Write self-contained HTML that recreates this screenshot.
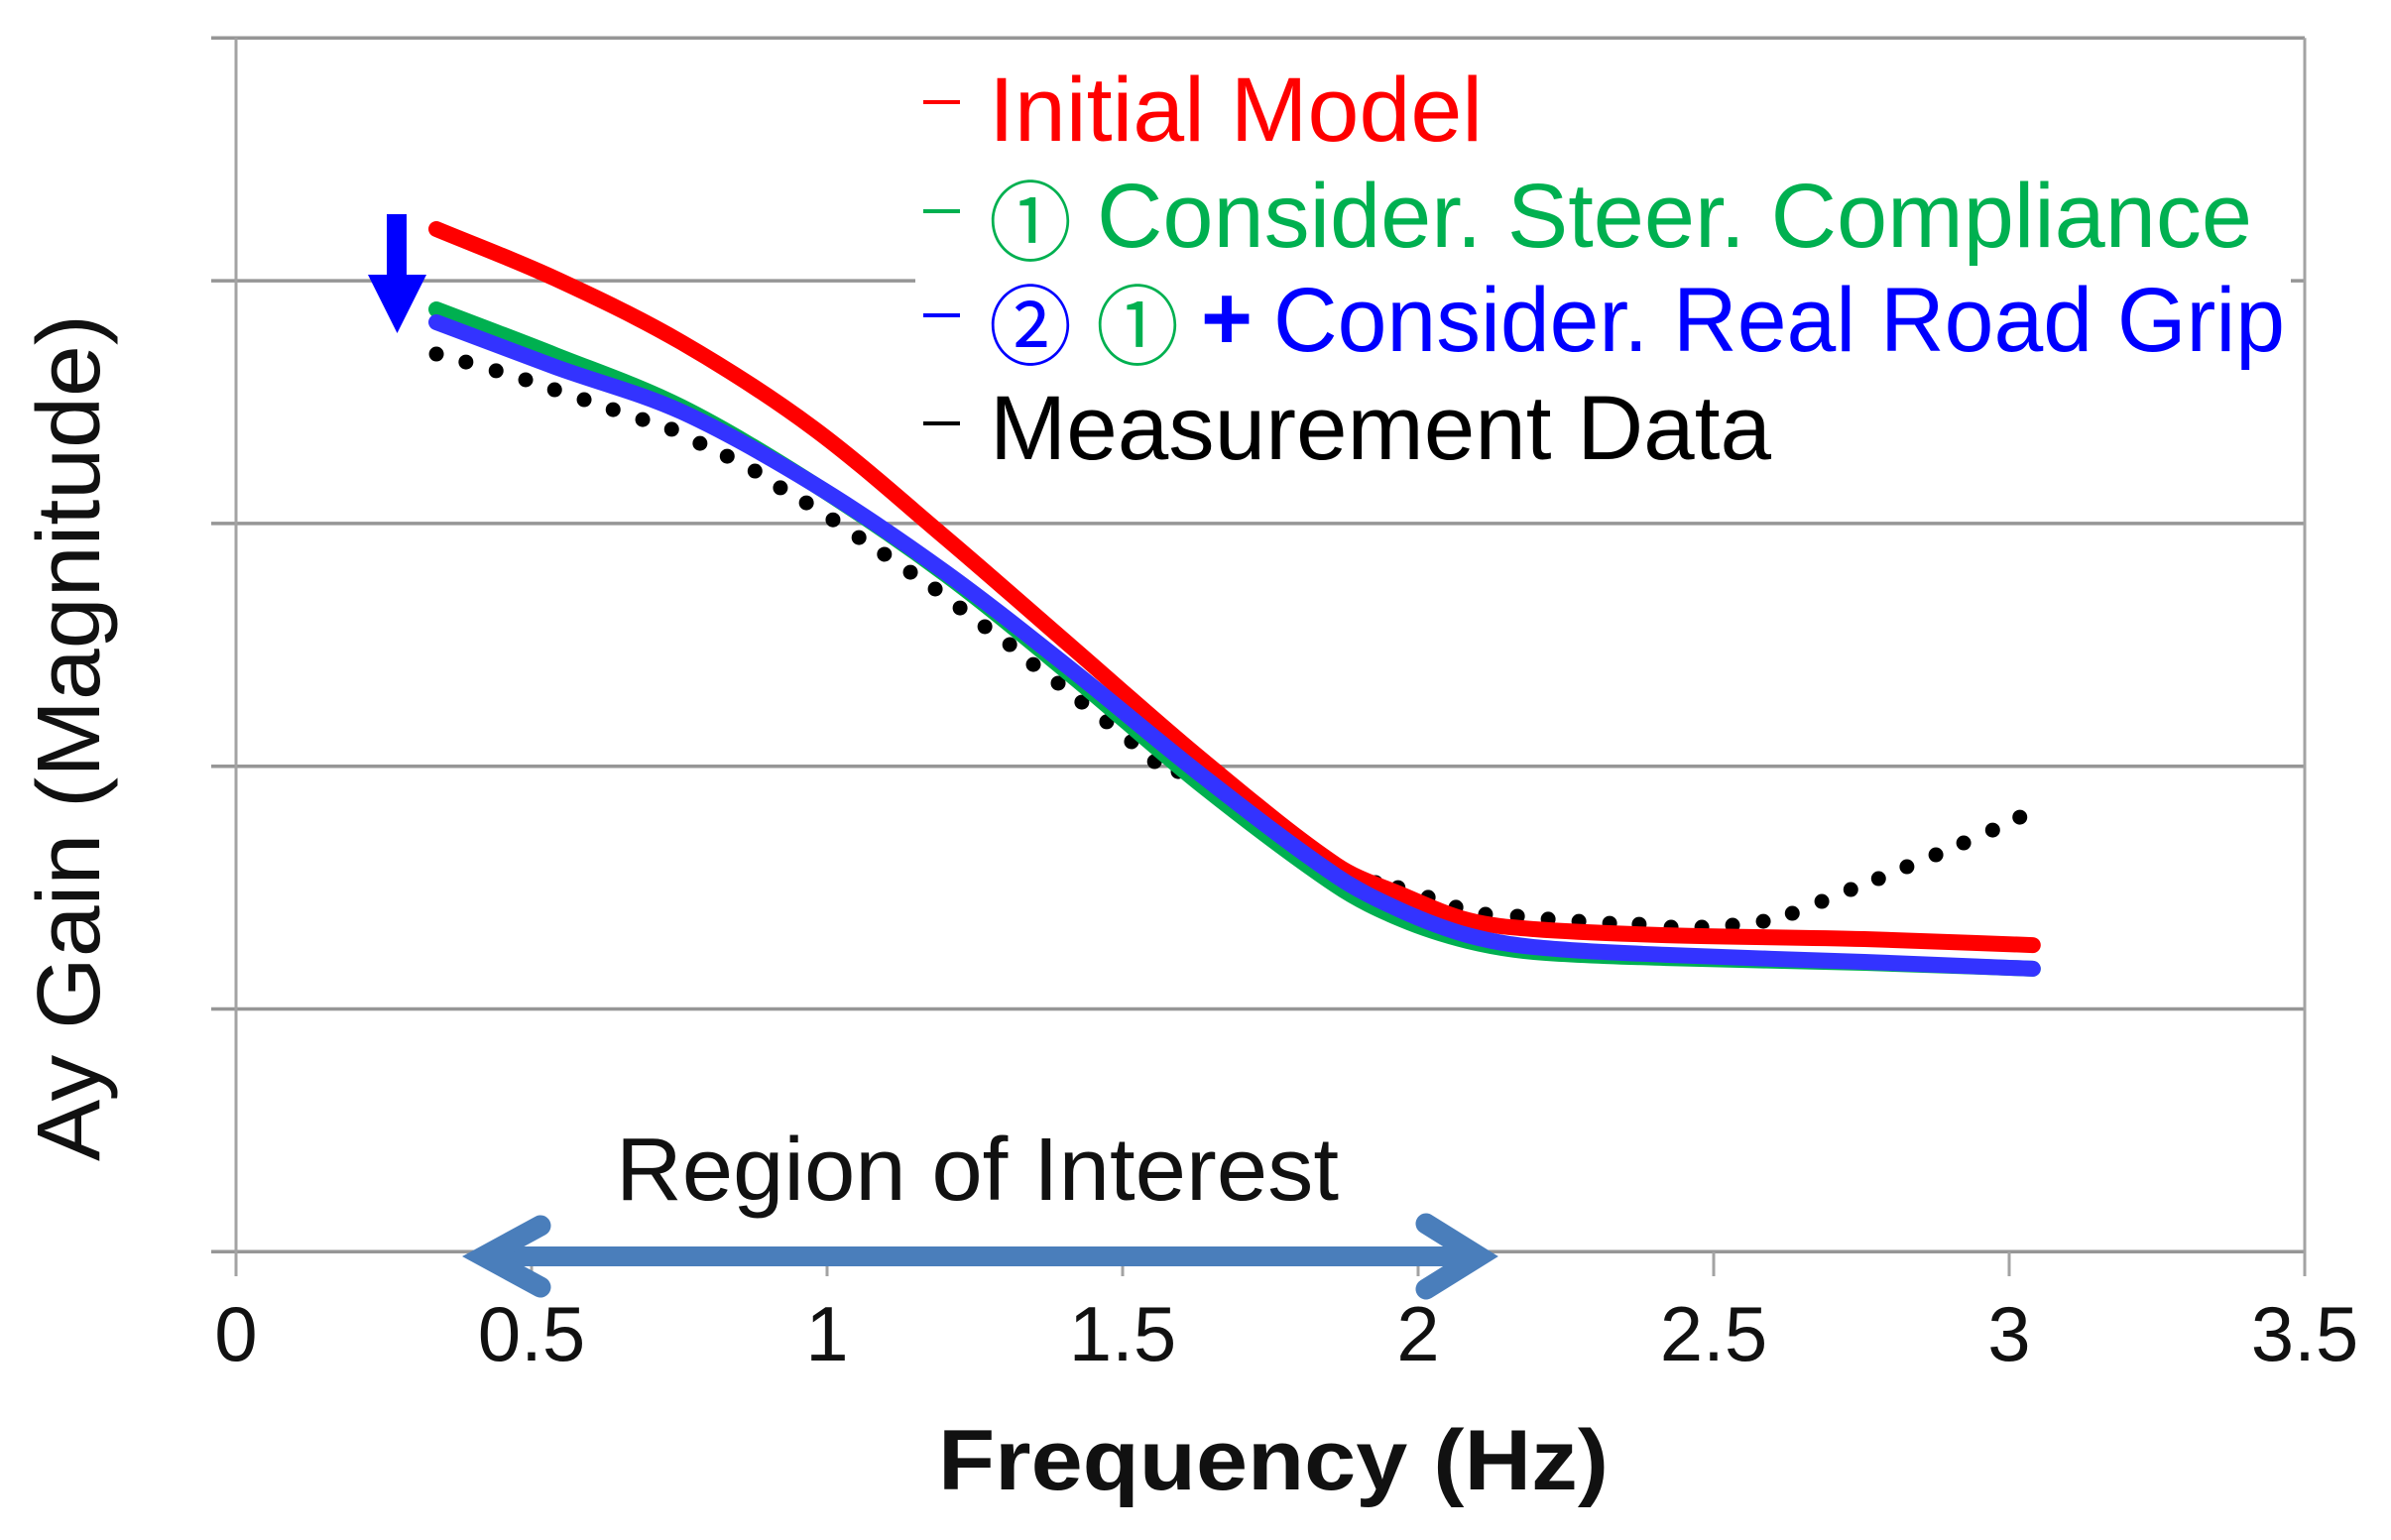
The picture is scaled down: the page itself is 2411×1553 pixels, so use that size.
<!DOCTYPE html>
<html lang="en">
<head>
<meta charset="utf-8">
<title>Ay Gain vs Frequency</title>
<style>
html,body{margin:0;padding:0;background:#fff;}
svg{display:block;}
text{font-family:"Liberation Sans","Noto Sans CJK KR",sans-serif;}
</style>
</head>
<body>
<svg id="chart" xmlns="http://www.w3.org/2000/svg" width="2411" height="1553" viewBox="0 0 2411 1553">
  <rect x="0" y="0" width="2411" height="1553" fill="#ffffff"/>
  <g id="grid"></g>
  <g id="xaxis"></g>
  <rect x="923" y="60" width="1387" height="440" fill="#ffffff"/>
  <g id="dots"></g>
  <g id="lines"></g>

  <path fill="#0000ff" d="M390 216H410V277H430L400.500 336L371 277H390Z"/>

  <g>
    <g>
      <rect x="931" y="101" width="37" height="4" fill="#ff0000"/>
      <text x="997" y="142" font-size="92" fill="#ff0000" textLength="498" lengthAdjust="spacingAndGlyphs">Initial Model</text>
    </g>
    <g>
      <rect x="931" y="211" width="37" height="4" fill="#00b050"/>
      <text x="997" y="256" font-size="88" fill="#00b050" textLength="84" lengthAdjust="spacingAndGlyphs">①</text>
      <text x="1106" y="249" font-size="92" fill="#00b050" textLength="1165" lengthAdjust="spacingAndGlyphs">Consider. Steer. Compliance</text>
    </g>
    <g>
      <rect x="931" y="316" width="37" height="4" fill="#0000ff"/>
      <text x="997" y="361" font-size="88" fill="#0000ff" textLength="84" lengthAdjust="spacingAndGlyphs">②</text>
      <text x="1105" y="361" font-size="88" fill="#00b050" textLength="84" lengthAdjust="spacingAndGlyphs">①</text>
      <text x="1211" y="352" font-size="92" font-weight="bold" fill="#0000ff" textLength="52" lengthAdjust="spacingAndGlyphs">+</text>
      <text x="1284" y="354" font-size="92" fill="#0000ff" textLength="1020" lengthAdjust="spacingAndGlyphs">Consider. Real Road Grip</text>
    </g>
    <g>
      <rect x="931" y="425" width="37" height="4" fill="#000000"/>
      <text x="998" y="463" font-size="92" fill="#000000" textLength="788" lengthAdjust="spacingAndGlyphs">Measurement Data</text>
    </g>
  </g>

  <text x="621" y="1210" font-size="90" fill="#111111" textLength="729" lengthAdjust="spacingAndGlyphs">Region of Interest</text>
  <g fill="none" stroke="#4a7ebb">
    <line x1="488" y1="1267" x2="1489" y2="1267" stroke-width="20"/>
    <polyline points="545,1236 488,1267 545,1298" stroke-width="21" stroke-linecap="round" stroke-linejoin="miter"/>
    <polyline points="1438,1234 1491,1267 1438,1300" stroke-width="21" stroke-linecap="round" stroke-linejoin="miter"/>
  </g>

  <text transform="translate(100 1171) rotate(-90)" font-size="90" fill="#111111" textLength="854" lengthAdjust="spacingAndGlyphs">Ay Gain (Magnitude)</text>
  <text x="946" y="1502" font-size="86" font-weight="bold" fill="#111111" textLength="676" lengthAdjust="spacingAndGlyphs">Frequency (Hz)</text>
</svg>

<script>
var xTickValues = [0, 0.5, 1, 1.5, 2, 2.5, 3, 3.5];
var xTickLabels = ['0', '0.5', '1', '1.5', '2', '2.5', '3', '3.5'];
var yTickValues = [0, 1, 2, 3, 4, 5];

var modelFreq = [0.339, 0.54, 0.753, 0.977, 1.2, 1.413, 1.636, 1.861, 1.971, 2.084, 2.196, 2.419, 2.755, 3.04];
var initialModel = [4.213, 4.009, 3.747, 3.392, 2.942, 2.493, 2.023, 1.594, 1.472, 1.366, 1.329, 1.304, 1.288, 1.263];
var steerCompliance = [3.882, 3.694, 3.481, 3.163, 2.791, 2.375, 1.917, 1.509, 1.370, 1.280, 1.235, 1.210, 1.190, 1.166];
var realRoadGrip = [3.829, 3.645, 3.461, 3.163, 2.799, 2.399, 1.958, 1.549, 1.406, 1.304, 1.255, 1.223, 1.194, 1.166];

var measuredFreq = [0.339, 0.389, 0.44, 0.49, 0.539, 0.589, 0.638, 0.688, 0.737, 0.785, 0.831, 0.878, 0.921, 0.965, 1.01, 1.054, 1.097, 1.141, 1.183, 1.225, 1.267, 1.309, 1.349, 1.391, 1.431, 1.473, 1.515, 1.554, 1.594, 1.636, 1.678, 1.72, 1.762, 1.804, 1.846, 1.888, 1.928, 1.966, 2.017, 2.064, 2.114, 2.168, 2.22, 2.272, 2.324, 2.374, 2.428, 2.48, 2.532, 2.584, 2.633, 2.683, 2.732, 2.779, 2.827, 2.876, 2.923, 2.972, 3.018];
var measuredGain = [3.698, 3.665, 3.629, 3.592, 3.551, 3.510, 3.469, 3.428, 3.388, 3.330, 3.277, 3.216, 3.147, 3.085, 3.015, 2.942, 2.873, 2.799, 2.730, 2.652, 2.575, 2.501, 2.419, 2.342, 2.264, 2.183, 2.101, 2.019, 1.978, 1.921, 1.848, 1.774, 1.705, 1.652, 1.582, 1.553, 1.521, 1.500, 1.460, 1.419, 1.390, 1.382, 1.370, 1.361, 1.353, 1.349, 1.337, 1.337, 1.345, 1.361, 1.394, 1.443, 1.492, 1.537, 1.586, 1.635, 1.684, 1.737, 1.790];

var NS = 'http://www.w3.org/2000/svg';
var plotLeft = 238, pxPerHz = 596, plotBottom = 1262.3, pxPerUnit = 244.8;
function xScale(v) { return plotLeft + v * pxPerHz; }
function yScale(v) { return plotBottom - v * pxPerUnit; }
function make(tag, attrs, parent) {
  var el = document.createElementNS(NS, tag);
  for (var k in attrs) { el.setAttribute(k, attrs[k]); }
  parent.appendChild(el);
  return el;
}
function smoothPath(xs, ys) {
  var pts = xs.map(function (x, i) { return [xScale(x), yScale(ys[i])]; });
  var n = pts.length;
  var slopes = pts.map(function (p, i) {
    var a = pts[Math.max(i - 1, 0)], b = pts[Math.min(i + 1, n - 1)];
    return (b[1] - a[1]) / (b[0] - a[0]);
  });
  var d = 'M' + pts[0][0].toFixed(1) + ' ' + pts[0][1].toFixed(1);
  for (var i = 0; i < n - 1; i++) {
    var h = pts[i + 1][0] - pts[i][0];
    var c1x = pts[i][0] + h / 3, c1y = pts[i][1] + slopes[i] * h / 3;
    var c2x = pts[i + 1][0] - h / 3, c2y = pts[i + 1][1] - slopes[i + 1] * h / 3;
    d += 'C' + c1x.toFixed(1) + ' ' + c1y.toFixed(1) + ' ' + c2x.toFixed(1) + ' ' + c2y.toFixed(1) + ' ' + pts[i + 1][0].toFixed(1) + ' ' + pts[i + 1][1].toFixed(1);
  }
  return d;
}

var gridG = document.getElementById('grid');
yTickValues.forEach(function (v, i) {
  var el = make('line', { x1: 213, x2: xScale(3.5), y1: yScale(v), y2: yScale(v), stroke: '#969696', 'stroke-width': 3.5 }, gridG);
  
  
});

var xG = document.getElementById('xaxis');
xTickValues.forEach(function (v, i) {
  var isEdge = (i === 0 || i === xTickValues.length - 1);
  var tick = make('line', { x1: xScale(v), x2: xScale(v), y1: isEdge ? yScale(5) : yScale(0), y2: 1287, stroke: '#a3a3a3', 'stroke-width': 3 }, xG);
  
  
  var label = make('text', { x: xScale(v), y: 1372, 'font-size': 78, 'text-anchor': 'middle', fill: '#111111' }, xG);
  label.textContent = xTickLabels[i];
  
  
});

var dotsG = document.getElementById('dots');
measuredFreq.forEach(function (f, i) {
  var dot = make('circle', { cx: xScale(f), cy: yScale(measuredGain[i]), r: 7.5, fill: '#000000' }, dotsG);
  
  
});

var linesG = document.getElementById('lines');
var greenLine = make('path', { d: smoothPath(modelFreq, steerCompliance), fill: 'none', stroke: '#00b050', 'stroke-width': 16, 'stroke-linecap': 'round', 'stroke-linejoin': 'round' }, linesG);


var redLine = make('path', { d: smoothPath(modelFreq, initialModel), fill: 'none', stroke: '#ff0000', 'stroke-width': 16, 'stroke-linecap': 'round', 'stroke-linejoin': 'round' }, linesG);


var blueLine = make('path', { d: smoothPath(modelFreq, realRoadGrip), fill: 'none', stroke: '#3333ff', 'stroke-width': 16, 'stroke-linecap': 'round', 'stroke-linejoin': 'round' }, linesG);


</script>
</body>
</html>
